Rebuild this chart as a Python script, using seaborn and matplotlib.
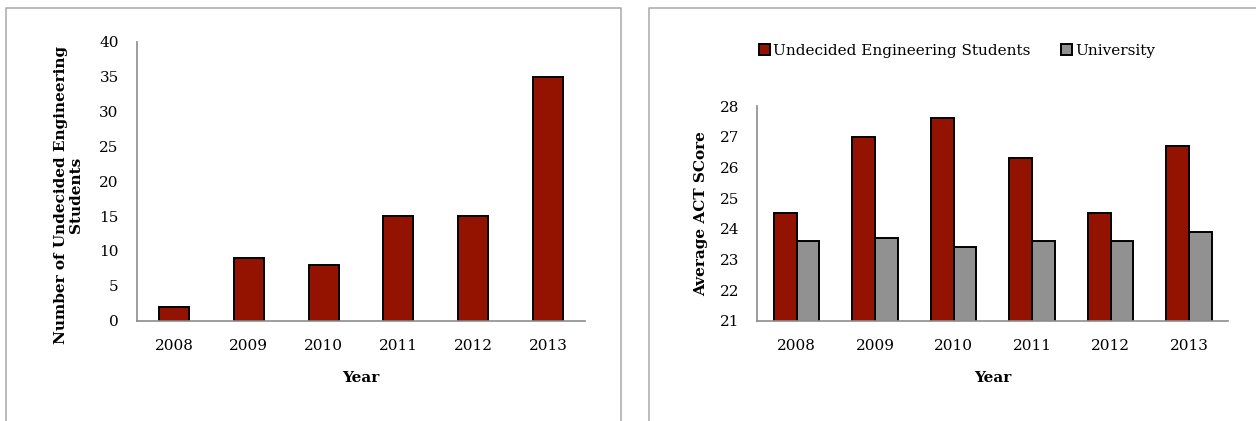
import matplotlib
matplotlib.use("Agg")
import matplotlib.pyplot as plt
import seaborn as sns
import pandas as pd
from matplotlib.lines import Line2D
from matplotlib.ticker import FixedLocator, MultipleLocator

# ---- data ----
years = ["2008", "2009", "2010", "2011", "2012", "2013"]
undecided_counts = [2, 9, 8, 15, 15, 35]
act_undecided = [24.5, 27.0, 27.6, 26.3, 24.5, 26.7]
act_university = [23.6, 23.7, 23.4, 23.6, 23.6, 23.9]
series_names = ["Undecided Engineering Students", "University"]

RED = "#931200"
GRAY = "#919191"
AXC = "#8c8c8c"
FRAMEC = "#a8a8a8"

sns.set_theme(style="white")
plt.rcParams['font.family'] = ['DejaVu Serif']
plt.rcParams['font.size'] = 11
plt.rcParams['text.color'] = 'black'
plt.rcParams['axes.labelcolor'] = 'black'
plt.rcParams['xtick.labelcolor'] = 'black'
plt.rcParams['ytick.labelcolor'] = 'black'

W, H = 1256, 421
fig = plt.figure(figsize=(W / 100, H / 100), dpi=100)

# ---- frames ----
fig.add_artist(Line2D([5.7 / W, 5.7 / W, 620.7 / W, 620.7 / W],
                      [0, 1 - 7.7 / H, 1 - 7.7 / H, 0],
                      color=FRAMEC, lw=1.1, transform=fig.transFigure))
fig.add_artist(Line2D([648.7 / W, 648.7 / W, 1.0],
                      [0, 1 - 7.5 / H, 1 - 7.5 / H],
                      color=FRAMEC, lw=1.1, transform=fig.transFigure))

def style_axes(ax):
    sns.despine(ax=ax)
    for s in ("left", "bottom"):
        ax.spines[s].set_color(AXC)
        ax.spines[s].set_linewidth(1.2)
    ax.set_xlim(-0.5, len(years) - 0.5)
    ax.xaxis.set_minor_locator(FixedLocator([i - 0.5 for i in range(len(years) + 1)]))
    ax.tick_params(axis="x", which="major", length=0, pad=13, labelsize=11,
                   labelcolor="black")
    ax.tick_params(axis="x", which="minor", length=5, width=1.2, color=AXC, direction="out")
    ax.tick_params(axis="y", which="major", length=5, width=1.2, color=AXC,
                   direction="out", pad=8, labelsize=11, labelcolor="black")
    ax.set_xlabel("Year", fontweight="bold", fontsize=11, labelpad=13, color="black")

# ---- left chart ----
ax1 = fig.add_axes([136.7 / W, 1 - 320.7 / H, 448.6 / W, 279.0 / H])
df1 = pd.DataFrame({"Year": years, "Count": undecided_counts})
sns.barplot(data=df1, x="Year", y="Count", color=RED, width=0.4, saturation=1,
            edgecolor="black", linewidth=1.4, ax=ax1)
ax1.set_ylim(0, 40)
ax1.yaxis.set_major_locator(MultipleLocator(5))
style_axes(ax1)
ax1.set_ylabel("Number of Undecided Engineering\nStudents", fontweight="bold",
               fontsize=11, linespacing=1.15, color="black")
ax1.yaxis.set_label_coords(-0.119, 0.45)

# ---- right chart ----
ax2 = fig.add_axes([757.3 / W, 1 - 320.7 / H, 471.0 / W, 214.7 / H])
df2 = pd.DataFrame({
    "Year": years * 2,
    "Score": act_undecided + act_university,
    "Group": [series_names[0]] * len(years) + [series_names[1]] * len(years),
})
sns.barplot(data=df2, x="Year", y="Score", hue="Group", hue_order=series_names,
            palette=[RED, GRAY], width=0.58, saturation=1,
            edgecolor="black", linewidth=1.4, ax=ax2)
ax2.set_ylim(21, 28)
ax2.yaxis.set_major_locator(MultipleLocator(1))
style_axes(ax2)
ax2.set_ylabel("Average ACT SCore", fontweight="bold", fontsize=11, color="black")
ax2.yaxis.set_label_coords(-0.105, 0.5)

handles, labels = ax2.get_legend_handles_labels()
leg = ax2.legend(handles, labels, loc="center", bbox_to_anchor=(957 / W, 1 - 51 / H),
                 bbox_transform=fig.transFigure, ncol=2, frameon=False, fontsize=11,
                 handlelength=0.72, handleheight=0.72, handletextpad=0.2,
                 columnspacing=2.0, borderpad=0, borderaxespad=0)
for t in leg.get_texts():
    t.set_color("black")

fig.savefig("out.png", dpi=100)
